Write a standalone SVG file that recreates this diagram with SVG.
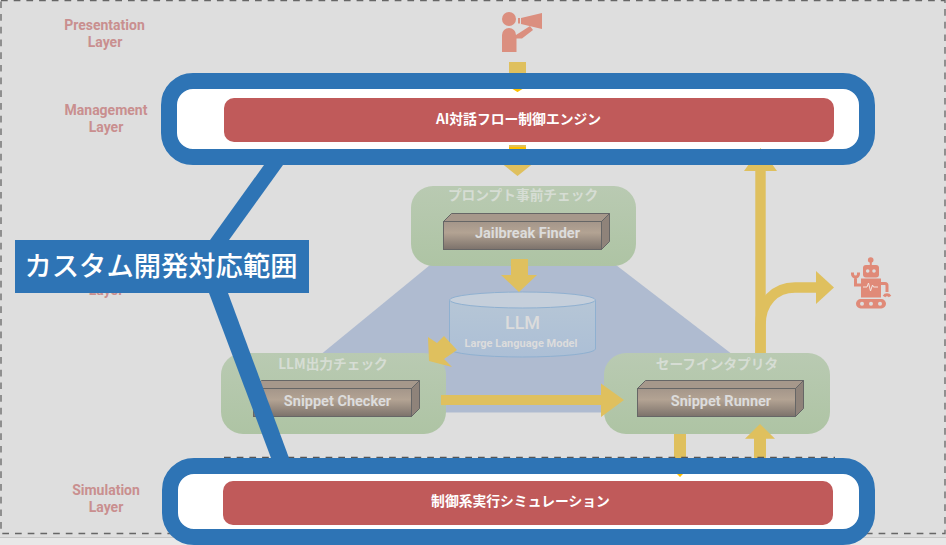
<svg xmlns="http://www.w3.org/2000/svg" width="946" height="545" viewBox="0 0 946 545">
<style>
.lay{font:bold 14px Roboto,"Liberation Sans",sans-serif;fill:#c98f8f;text-anchor:middle}
.gt{font:bold 13.700px "Noto Sans CJK JP","Liberation Sans",sans-serif;fill:#d6ddd4;text-anchor:middle}
.ct{font:bold 14.500px Roboto,"Liberation Sans",sans-serif;fill:#dcdcdc;text-anchor:middle}
.rt{font:bold 13.800px "Noto Sans CJK JP","Liberation Sans",sans-serif;fill:#fff;text-anchor:middle}
.gb{fill:url(#g)}
.red{fill:#c05a5a}
.gold{fill:#dfc05e}
.hot{fill:#ffc000}
.ring{fill:none;stroke:#2e74b5;stroke-width:16}
.ic{fill:#db8f7f}
.f{fill:url(#b);stroke:#666}
.t{fill:#a6988b;stroke:#666}
.s{fill:#8f837a;stroke:#666}
</style>
<defs>
<linearGradient id="g" x1="0" y1="0" x2="0" y2="1"><stop offset="0" stop-color="#b9cab2"/><stop offset="1" stop-color="#aec4a4"/></linearGradient>
<linearGradient id="b" x1="0" y1="0" x2="0" y2="1"><stop offset="0" stop-color="#a4968a"/><stop offset=".4" stop-color="#b3a393"/><stop offset="1" stop-color="#7c726b"/></linearGradient>
<linearGradient id="cy" x1="0" y1="0" x2="0" y2="1"><stop offset="0" stop-color="#b6c6d6"/><stop offset="1" stop-color="#acbfd6"/></linearGradient>
</defs>
<rect width="946" height="545" fill="#e8e8e8"/>
<rect width="946" height="537.500" fill="#dedede"/>
<rect x="1" y="0.500" width="944" height="533" fill="none" stroke="#666" stroke-width="1.300" stroke-dasharray="6.700 6"/>
<path d="M0 537.500H946" stroke="#c8c8c8"/>
<g id="layer-labels">
<text class="lay" x="104.500" y="30">Presentation</text><text class="lay" x="105" y="47">Layer</text>
<text class="lay" x="106" y="115">Management</text><text class="lay" x="106" y="132">Layer</text>
<text class="lay" x="106" y="295">Layer</text>
<text class="lay" x="106" y="495">Simulation</text><text class="lay" x="106" y="512">Layer</text>
</g>
<polygon id="backdrop" points="430,265 616,265 808,412.500 250,412.500" fill="#afbbd0"/>
<g id="white-bands"><rect x="170" y="82" width="696" height="74" rx="22" fill="#fff"/><rect x="170" y="467" width="696" height="70" rx="22" fill="#fff"/></g>
<g id="connectors">
<polygon class="gold" points="509,62 526,62 526,75 536,75 517.500,92 499,75 509,75"/>
<polygon class="hot" points="512.500,89 522.500,89 517.500,92"/>
<polygon class="gold" points="509,145 526,145 526,158 540,158 517.500,176 495,158 509,158"/>
<rect class="hot" x="509" y="147" width="17" height="3"/>
<polygon class="gold" points="674,427 686,427 686,460 680,477 674,460"/>
<polygon class="hot" points="677,474 683,474 680,477"/>
</g>
<g id="group-check"><rect class="gb" x="411" y="186" width="225" height="80" rx="22"/><text class="gt" x="523" y="200">プロンプト事前チェック</text></g>
<g id="group-output"><rect class="gb" x="221" y="353" width="225" height="81" rx="22"/><text class="gt" x="333" y="369">LLM出力チェック</text></g>
<g id="group-safe"><rect class="gb" x="604" y="353" width="226" height="81" rx="22"/><text class="gt" x="717" y="369">セーフインタプリタ</text></g>
<g id="llm">
<path d="M449.500 300V349A73 8 0 0 0 595.500 349V300Z" fill="url(#cy)" stroke="#8fb0d0"/>
<ellipse cx="522.500" cy="300" rx="73" ry="8" fill="#c5cfdb" stroke="#8fb0d0"/>
<text x="522.500" y="329" text-anchor="middle" style="font:500 18px Roboto,sans-serif;fill:#dcdcdc">LLM</text>
<text x="521" y="347" text-anchor="middle" style="font:bold 11px Roboto,sans-serif;fill:#dcdcdc">Large Language Model</text>
</g>
<g id="jailbreak"><polygon class="t" points="443.500,221.500 451.500,213.500 609.500,213.500 601.500,221.500"/><polygon class="s" points="601.500,221.500 609.500,213.500 609.500,241.500 601.500,249.500"/><rect class="f" x="443.500" y="221.500" width="158" height="28"/><text class="ct" x="527.500" y="238">Jailbreak Finder</text></g>
<g id="checker"><polygon class="t" points="253.500,388.500 261.500,380.500 419.500,380.500 411.500,388.500"/><polygon class="s" points="411.500,388.500 419.500,380.500 419.500,408.500 411.500,416.500"/><rect class="f" x="253.500" y="388.500" width="158" height="28"/><text class="ct" x="337.500" y="406">Snippet Checker</text></g>
<g id="runner"><polygon class="t" points="637.500,388.500 645.500,380.500 803.500,380.500 795.500,388.500"/><polygon class="s" points="795.500,388.500 803.500,380.500 803.500,408.500 795.500,416.500"/><rect class="f" x="637.500" y="388.500" width="158" height="28"/><text class="ct" x="721" y="406">Snippet Runner</text></g>
<g id="connectors-upper">
<polygon class="gold" points="511,259 528,259 528,275 537,275 519,292 501,275 511,275"/>
<polygon class="gold" points="428,337 437,343 444,336 457,350 444,359 452,367 429,361"/>
<polygon class="gold" points="441,395 601,395 601,383.500 624,400 601,417 601,405 441,405"/>
<path d="M760.500 353V325C760.500 302 775 287.500 795 287.500H818" fill="none" stroke="#dfc05e" stroke-width="10.500"/>
<polygon class="gold" points="816,271 834,287.500 816,304"/>
<polygon class="gold" points="755.300,353 755.300,171 744,171 760.500,148 777,171 765.700,171 765.700,353"/>
<polygon class="gold" points="754,460 754,438.700 745,438.700 760,424 775,438.700 766,438.700 766,460"/>
</g>
<g id="engine"><rect class="red" x="224" y="98" width="610" height="44" rx="10"/><text class="rt" x="518.500" y="124">AI対話フロー制御エンジン</text></g>
<g id="simulation"><rect class="red" x="223" y="481" width="610" height="44" rx="10"/><text class="rt" x="520.500" y="506">制御系実行シミュレーション</text></g>
<path id="sim-dash" d="M224 457.500H835" fill="none" stroke="#555" stroke-width="1.300" stroke-dasharray="6.700 6"/>
<g id="person" class="ic">
<circle cx="509" cy="19" r="7"/>
<path d="M502 52V35A7 7 0 0 1 516 35L530 26L533 30L522 38.500H516.500V52Z"/>
<polygon points="521,18 542,13 542,29 521,24"/>
<rect x="518" y="18" width="2" height="5.500"/>
</g>
<g id="robot">
<g fill="#e08a78">
<circle cx="870.700" cy="260" r="2.800"/><rect x="869.800" y="260" width="2" height="6"/>
<rect x="863" y="265" width="16" height="12.500" rx="3"/>
<rect x="861" y="278.500" width="20" height="19"/>
<rect x="856" y="299" width="30" height="9.500" rx="4.700"/>
</g>
<g fill="#dedede"><circle cx="867.700" cy="271" r="1.800"/><circle cx="874" cy="271" r="1.800"/><circle cx="862" cy="303.700" r="2"/><circle cx="871" cy="303.700" r="2"/><circle cx="880" cy="303.700" r="2"/></g>
<path d="M863 285H855.500V276M852.500 272.500V274A3 3 0 0 0 858.500 274V272.500M881 283.500H885A2 2 0 0 1 887 285.500V292M884 296.500A3.500 3.500 0 0 1 890 296.500" fill="none" stroke="#e08a78" stroke-width="3"/>
<path d="M863 287H867L868.500 283L870.500 291L872.500 285L873.500 287H878" fill="none" stroke="#f2e4df" stroke-width="1"/>
</g>
<g id="highlight">
<rect class="ring" x="169" y="81" width="698" height="76" rx="24"/>
<rect class="ring" x="170" y="466" width="697" height="71" rx="24"/>
<polygon points="264,165 283,165 229,240 210,240" fill="#2e74b5"/>
<polygon points="209,293 228,293 289,458 271,458" fill="#2e74b5"/>
<rect x="15" y="240" width="294" height="53" fill="#2e74b5"/>
<text x="161" y="276" text-anchor="middle" style="font:500 27.300px 'Noto Sans CJK JP',sans-serif;fill:#fff">カスタム開発対応範囲</text>
</g>
</svg>
